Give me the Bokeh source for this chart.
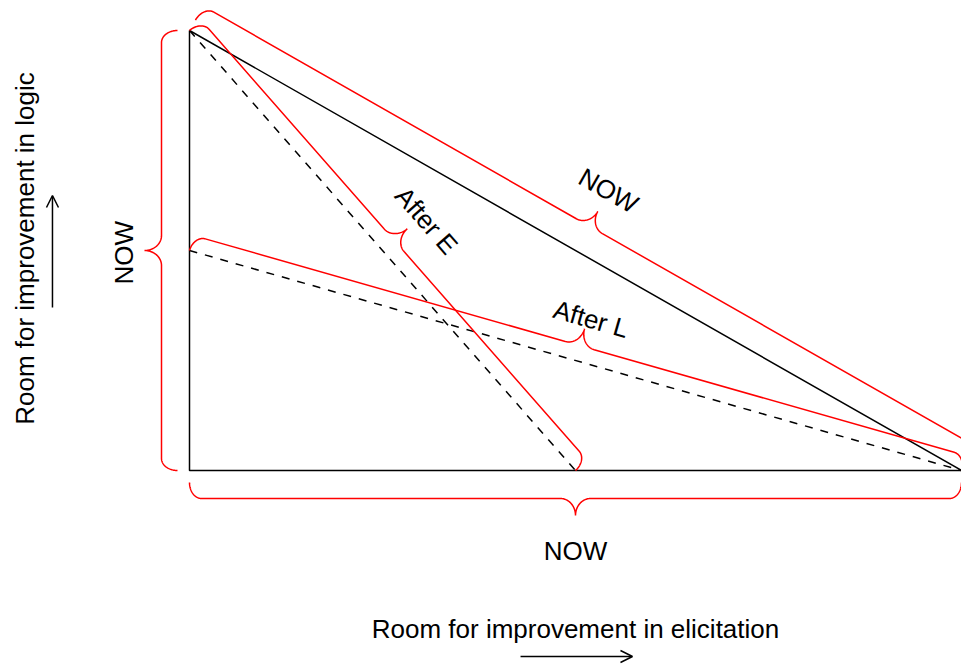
import numpy as np
from bokeh.plotting import figure
from bokeh.models import Arrow, OpenHead, Range1d
from bokeh.core.properties import value
from bokeh.embed import file_html
from bokeh.resources import INLINE

# ---- data (unit triangle: room for improvement) ----
tri_x = [0.0, 0.0, 1.0, 0.0]
tri_y = [1.0, 0.0, 0.0, 1.0]
afterE_x = [0.0, 0.5]
afterE_y = [1.0, 0.0]
afterL_x = [0.0, 1.0]
afterL_y = [0.5, 0.0]

label_text = ["NOW", "NOW", "NOW", "After E", "After L"]
label_x = [-0.0842, 0.5, 0.5427, 0.307, 0.520]
label_y = [0.495, -0.182, 0.636, 0.568, 0.344]

xlab = "Room for improvement in elicitation"
ylab = "Room for improvement in logic"

# ---- layout ----
W, H = 961, 665
X0, X1 = -0.24482, 1.0
Y0, Y1 = -0.44318, 1.06818
sx = W / (X1 - X0)
sy = H / (Y1 - Y0)

p = figure(width=W, height=H, output_backend="svg", toolbar_location=None,
           x_range=Range1d(X0, X1), y_range=Range1d(Y0, Y1),
           x_axis_type=None, y_axis_type=None, min_border=0)
p.grid.visible = False
p.outline_line_color = None
p.background_fill_color = "white"
p.border_fill_color = "white"

FONT = value("Liberation Sans")


def brace(xa, ya, xb, yb, d0, h, tip, r=12.0, r2=15.0, n=40):
    A = np.array([xa * sx, ya * sy])
    B = np.array([xb * sx, yb * sy])
    v = B - A
    L = np.hypot(*v)
    u = v / L
    nrm = np.array([-u[1], u[0]])
    th = np.linspace(0, np.pi / 2, n)
    t1 = r - r * np.cos(th)
    d1 = d0 + (h - d0) * np.sin(th)
    t3 = L / 2 - r2 + r2 * np.sin(th)
    d3 = h + tip - tip * np.cos(th)
    th_ = np.concatenate([t1, t3])
    dh_ = np.concatenate([d1, d3])
    tt = np.concatenate([th_, L - th_[::-1]])
    dd = np.concatenate([dh_, dh_[::-1]])
    pts = A[None, :] + np.outer(tt, u) + np.outer(dd, nrm)
    return pts[:, 0] / sx, pts[:, 1] / sy


# triangle and dashed lines
p.line(tri_x, tri_y, line_color="black", line_width=1.5)
p.line(afterE_x, afterE_y, line_color="black", line_width=1.5, line_dash="8 8")
p.line(afterL_x, afterL_y, line_color="black", line_width=1.5, line_dash="8 8")

RED = "#ff0000"
# NOW braces
for (xa, ya, xb, yb) in [(tri_x[1], tri_y[1], tri_x[0], tri_y[0]),
                         (tri_x[2], tri_y[2], tri_x[1], tri_y[1]),
                         (tri_x[0], tri_y[0], tri_x[2], tri_y[2])]:
    bx, by = brace(xa, ya, xb, yb, d0=12, h=28, tip=17)
    p.line(bx, by, line_color=RED, line_width=1.5)
# After braces
for (xs, ys) in [(afterE_x, afterE_y), (afterL_x, afterL_y)]:
    bx, by = brace(xs[0], ys[0], xs[1], ys[1], d0=0, h=15.5, tip=17.5)
    p.line(bx, by, line_color=RED, line_width=1.5)


def ang(xs, ys):
    return float(np.arctan2((ys[1] - ys[0]) * sy, (xs[1] - xs[0]) * sx))


angles = [np.pi / 2, 0.0, ang([tri_x[0], tri_x[2]], [tri_y[0], tri_y[2]]),
          ang(afterE_x, afterE_y), ang(afterL_x, afterL_y)]

p.text(x=label_x, y=label_y, text=label_text, angle=angles,
       text_font=FONT, text_font_size="26px", text_align="center",
       text_baseline="middle", text_color="black")

# axis titles
p.text(x=[0.5], y=[-0.361], text=[xlab], text_font=FONT, text_font_size="26px",
       text_align="center", text_baseline="middle", text_color="black")
p.text(x=[-0.2137], y=[0.5045], text=[ylab], angle=[np.pi / 2], text_font=FONT,
       text_font_size="26px", text_align="center", text_baseline="middle",
       text_color="black")

# arrows
p.add_layout(Arrow(end=OpenHead(size=12, line_width=1.5, line_color="black"),
                   x_start=0.4288, y_start=-0.4227, x_end=0.5738, y_end=-0.4227,
                   line_width=1.5, line_color="black"))
p.add_layout(Arrow(end=OpenHead(size=12, line_width=1.5, line_color="black"),
                   x_start=-0.1775, y_start=0.3705, x_end=-0.1775, y_end=0.625,
                   line_width=1.5, line_color="black"))

open("out.html", "w").write(file_html(p, INLINE))
